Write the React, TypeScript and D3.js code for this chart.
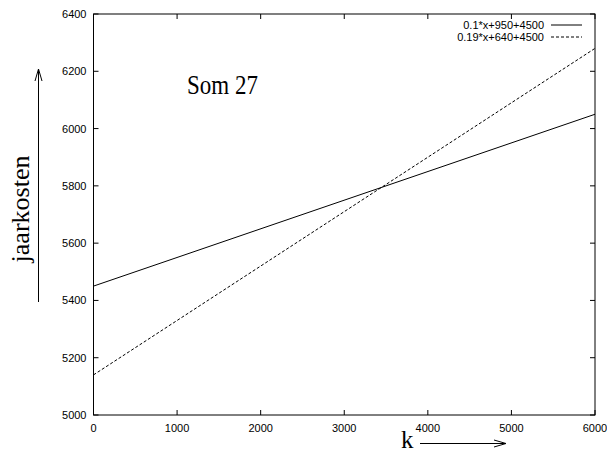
import * as d3 from "d3";
import React, { useRef, useEffect } from "react";

const xTicks = [0, 1000, 2000, 3000, 4000, 5000, 6000];
const yTicks = [5000, 5200, 5400, 5600, 5800, 6000, 6200, 6400];
const seriesNames = ["0.1*x+950+4500", "0.19*x+640+4500"];
const slopes = [0.1, 0.19];
const intercepts = [950 + 4500, 640 + 4500];
const dashes = ["none", "3,2"];

function App() {
    const ref = useRef<SVGSVGElement>(null);

    useEffect(() => {
        const svg = d3.select(ref.current);
        svg.selectAll("*").remove();

        const left = 93.5, right = 595, top = 14, bottom = 415;
        const x = d3.scaleLinear().domain([0, 6000]).range([left, right]);
        const y = d3.scaleLinear().domain([5000, 6400]).range([bottom, top]);
        const font = "'Liberation Sans', Arial, sans-serif";
        const serif = "'Liberation Serif', 'Times New Roman', serif";

        // frame
        svg.append("rect")
            .attr("x", left).attr("y", top)
            .attr("width", right - left).attr("height", bottom - top)
            .attr("fill", "none").attr("stroke", "#000").attr("stroke-width", 1);

        const tl = 5;
        xTicks.forEach(t => {
            svg.append("line").attr("x1", x(t)).attr("x2", x(t)).attr("y1", bottom).attr("y2", bottom - tl).attr("stroke", "#000");
            svg.append("line").attr("x1", x(t)).attr("x2", x(t)).attr("y1", top).attr("y2", top + tl).attr("stroke", "#000");
            svg.append("text").attr("x", x(t)).attr("y", bottom + 17)
                .attr("text-anchor", "middle").attr("font-family", font).attr("font-size", 11)
                .text(t);
        });
        yTicks.forEach(t => {
            svg.append("line").attr("x1", left).attr("x2", left + tl).attr("y1", y(t)).attr("y2", y(t)).attr("stroke", "#000");
            svg.append("line").attr("x1", right).attr("x2", right - tl).attr("y1", y(t)).attr("y2", y(t)).attr("stroke", "#000");
            svg.append("text").attr("x", left - 7).attr("y", y(t) + 4)
                .attr("text-anchor", "end").attr("font-family", font).attr("font-size", 11)
                .text(t);
        });

        // lines + legend
        seriesNames.forEach((name, i) => {
            const pts = [0, 6000];
            svg.append("path")
                .attr("d", d3.line<number>().x(d => x(d)).y(d => y(slopes[i] * d + intercepts[i]))(pts))
                .attr("fill", "none").attr("stroke", "#000").attr("stroke-width", 1)
                .attr("stroke-dasharray", dashes[i]);
            const ly = 25 + i * 12;
            svg.append("text").attr("x", 544).attr("y", ly + 4)
                .attr("text-anchor", "end").attr("font-family", font).attr("font-size", 11)
                .text(name);
            svg.append("line").attr("x1", 551).attr("x2", 582).attr("y1", ly).attr("y2", ly)
                .attr("stroke", "#000").attr("stroke-dasharray", dashes[i]);
        });

        // title
        svg.append("text").attr("x", 187).attr("y", 94)
            .attr("font-family", serif).attr("font-size", 23)
            .attr("transform", "translate(0,-16) scale(1,1.17)")
            .text("Som 27");

        // y label + arrow
        svg.append("text").attr("transform", "translate(29,209) rotate(-90)")
            .attr("text-anchor", "middle").attr("font-family", serif).attr("font-size", 26)
            .text("jaarkosten");
        svg.append("line").attr("x1", 38.5).attr("x2", 38.5).attr("y1", 302).attr("y2", 69).attr("stroke", "#000");
        svg.append("path").attr("d", "M35,81 L38.5,69 L42,81").attr("fill", "none").attr("stroke", "#000");

        // x label + arrow
        svg.append("text").attr("x", 401).attr("y", 448)
            .attr("font-family", serif).attr("font-size", 25).text("k");
        svg.append("line").attr("x1", 420).attr("x2", 506).attr("y1", 443.5).attr("y2", 443.5).attr("stroke", "#000");
        svg.append("path").attr("d", "M494,440 L506,443.5 L494,447").attr("fill", "none").attr("stroke", "#000");
    }, []);

    return (
        <svg ref={ref} width={607} height={454}
            style={{ position: "absolute", left: 0, top: 0, background: "#fff" }} />
    );
}

export default App;
